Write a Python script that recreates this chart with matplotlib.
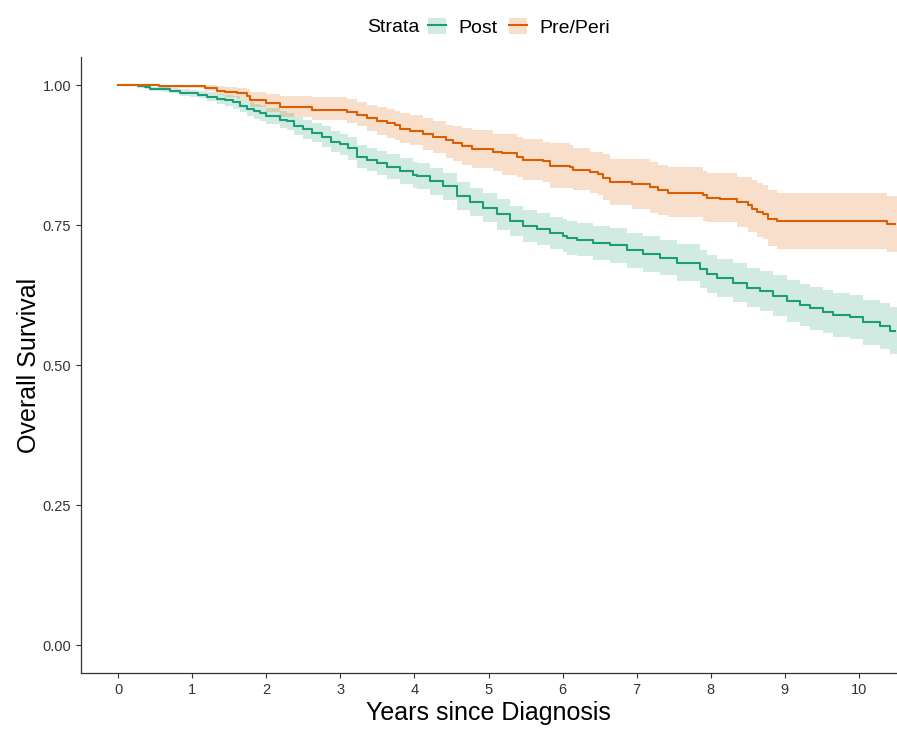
import matplotlib.pyplot as plt
from matplotlib.lines import Line2D
from matplotlib.patches import Patch

plt.rcParams['font.family'] = ['Liberation Sans', 'DejaVu Sans']

# Kaplan-Meier estimates (step times in years, survival, 95% CI)
post_time = [0.00, 0.27, 0.37, 0.43, 0.61, 0.70, 0.84, 0.97, 1.08, 1.20,
             1.34, 1.45, 1.55, 1.65, 1.74, 1.83, 1.92, 2.00, 2.19, 2.28,
             2.37, 2.50, 2.62, 2.75, 2.88, 3.00, 3.11, 3.22, 3.36, 3.49,
             3.63, 3.80, 3.98, 4.04, 4.21, 4.39, 4.57, 4.75, 4.93, 5.11,
             5.29, 5.47, 5.65, 5.83, 6.01, 6.06, 6.19, 6.41, 6.64, 6.87,
             7.09, 7.31, 7.54, 7.85, 7.95, 8.08, 8.30, 8.49, 8.66, 8.84,
             9.03, 9.20, 9.34, 9.51, 9.65, 9.88, 10.05, 10.28, 10.42, 10.60]
post_surv = [1.000, 0.998, 0.996, 0.993, 0.992, 0.990, 0.986, 0.985, 0.983, 0.979,
             0.975, 0.973, 0.969, 0.963, 0.957, 0.953, 0.950, 0.945, 0.938, 0.935,
             0.927, 0.921, 0.915, 0.908, 0.899, 0.894, 0.887, 0.872, 0.867, 0.861,
             0.854, 0.846, 0.840, 0.837, 0.828, 0.819, 0.802, 0.792, 0.781, 0.769,
             0.757, 0.748, 0.743, 0.736, 0.731, 0.727, 0.724, 0.718, 0.714, 0.705,
             0.698, 0.692, 0.683, 0.671, 0.663, 0.656, 0.647, 0.638, 0.632, 0.623,
             0.614, 0.607, 0.601, 0.595, 0.589, 0.585, 0.576, 0.570, 0.561, 0.561]
post_lower = [1.000, 0.995, 0.992, 0.989, 0.987, 0.985, 0.980, 0.978, 0.976, 0.971,
              0.966, 0.963, 0.958, 0.951, 0.944, 0.940, 0.936, 0.931, 0.923, 0.920,
              0.911, 0.904, 0.898, 0.890, 0.880, 0.875, 0.867, 0.851, 0.846, 0.839,
              0.832, 0.823, 0.817, 0.814, 0.804, 0.795, 0.777, 0.767, 0.755, 0.742,
              0.730, 0.720, 0.715, 0.707, 0.702, 0.697, 0.694, 0.688, 0.683, 0.674,
              0.666, 0.660, 0.650, 0.638, 0.629, 0.622, 0.612, 0.603, 0.596, 0.587,
              0.577, 0.570, 0.563, 0.557, 0.550, 0.546, 0.536, 0.529, 0.520, 0.520]
post_upper = [1.000, 1.000, 1.000, 0.997, 0.997, 0.995, 0.992, 0.991, 0.990, 0.987,
              0.984, 0.983, 0.980, 0.975, 0.970, 0.966, 0.964, 0.959, 0.953, 0.950,
              0.943, 0.938, 0.932, 0.926, 0.918, 0.913, 0.907, 0.893, 0.888, 0.883,
              0.876, 0.869, 0.863, 0.860, 0.852, 0.843, 0.827, 0.817, 0.807, 0.796,
              0.784, 0.776, 0.771, 0.765, 0.760, 0.757, 0.754, 0.748, 0.745, 0.736,
              0.730, 0.724, 0.716, 0.705, 0.697, 0.690, 0.682, 0.674, 0.668, 0.660,
              0.651, 0.645, 0.639, 0.634, 0.628, 0.625, 0.617, 0.611, 0.603, 0.603]

pre_time = [0.00, 0.55, 1.17, 1.34, 1.45, 1.60, 1.74, 1.78, 2.00, 2.19,
            2.62, 3.09, 3.22, 3.36, 3.49, 3.63, 3.74, 3.80, 3.94, 4.12,
            4.25, 4.43, 4.52, 4.64, 4.78, 5.06, 5.18, 5.38, 5.47, 5.74,
            5.83, 6.10, 6.14, 6.37, 6.48, 6.55, 6.64, 6.94, 7.18, 7.29,
            7.42, 7.89, 7.95, 8.12, 8.35, 8.50, 8.55, 8.62, 8.70, 8.77,
            8.89, 10.38, 10.60]
pre_surv = [1.000, 0.998, 0.995, 0.990, 0.988, 0.985, 0.981, 0.974, 0.968, 0.960,
            0.955, 0.951, 0.947, 0.941, 0.936, 0.933, 0.929, 0.921, 0.918, 0.913,
            0.907, 0.901, 0.896, 0.891, 0.886, 0.881, 0.878, 0.872, 0.867, 0.864,
            0.856, 0.853, 0.849, 0.845, 0.841, 0.834, 0.827, 0.824, 0.818, 0.812,
            0.807, 0.803, 0.798, 0.797, 0.791, 0.785, 0.778, 0.773, 0.770, 0.761,
            0.757, 0.751, 0.751]
pre_lower = [1.000, 0.994, 0.989, 0.982, 0.979, 0.975, 0.969, 0.960, 0.952, 0.943,
             0.938, 0.932, 0.926, 0.917, 0.911, 0.905, 0.901, 0.897, 0.893, 0.884,
             0.878, 0.869, 0.864, 0.858, 0.852, 0.846, 0.840, 0.836, 0.830, 0.827,
             0.816, 0.816, 0.813, 0.807, 0.803, 0.795, 0.786, 0.778, 0.772, 0.768,
             0.765, 0.757, 0.756, 0.756, 0.747, 0.738, 0.738, 0.728, 0.725, 0.712,
             0.708, 0.701, 0.701]
pre_upper = [1.000, 1.000, 1.000, 0.998, 0.997, 0.995, 0.993, 0.988, 0.984, 0.980,
             0.978, 0.975, 0.970, 0.964, 0.960, 0.957, 0.954, 0.950, 0.947, 0.941,
             0.935, 0.929, 0.927, 0.923, 0.920, 0.913, 0.913, 0.908, 0.903, 0.899,
             0.896, 0.893, 0.887, 0.881, 0.881, 0.876, 0.868, 0.868, 0.862, 0.858,
             0.854, 0.846, 0.843, 0.843, 0.836, 0.836, 0.830, 0.825, 0.822, 0.813,
             0.808, 0.802, 0.802]

strata = ['Post', 'Pre/Peri']
colors = ['#1B9E77', '#D95F02']
x_ticks = list(range(0, 11))
y_ticks = [0.00, 0.25, 0.50, 0.75, 1.00]

fig = plt.figure(figsize=(8.97, 7.31), dpi=100)
ax = fig.add_axes([0.0903, 0.0793, 0.9086, 0.8427])

curves = [(post_time, post_surv, post_lower, post_upper),
          (pre_time, pre_surv, pre_lower, pre_upper)]
for (t, s, lo, hi), col in zip(curves, colors):
    ax.fill_between(t, lo, hi, step='post', color=col, alpha=0.2, lw=0)
    ax.step(t, s, where='post', color=col, lw=1.5)

ax.set_xlim(-0.5, 10.5)
ax.set_ylim(-0.05, 1.05)
ax.set_xticks(x_ticks)
ax.set_yticks(y_ticks)
ax.set_yticklabels([f'{v:.2f}' for v in y_ticks])
ax.tick_params(labelsize=10.5, labelcolor='#333333', color='#333333',
               length=3.5, width=0.8)
for side in ['top', 'right']:
    ax.spines[side].set_visible(False)
for side in ['left', 'bottom']:
    ax.spines[side].set_color('#333333')
    ax.spines[side].set_linewidth(0.9)

ax.set_xlabel('Years since Diagnosis', fontsize=18, labelpad=3)
ax.set_ylabel('Overall Survival', fontsize=18, labelpad=1)

handles = [(Patch(facecolor=c, alpha=0.2, edgecolor='none'),
            Line2D([], [], color=c, lw=1.5)) for c in colors]
fig.legend(handles, strata, loc='center', bbox_to_anchor=(0.5786, 0.963),
           ncol=2, frameon=False, fontsize=14, handlelength=0.95,
           handleheight=0.95, handletextpad=0.62, columnspacing=0.57)
fig.text(0.409, 0.963, 'Strata', fontsize=14, ha='left', va='center')

fig.savefig('out.png', dpi=100)
